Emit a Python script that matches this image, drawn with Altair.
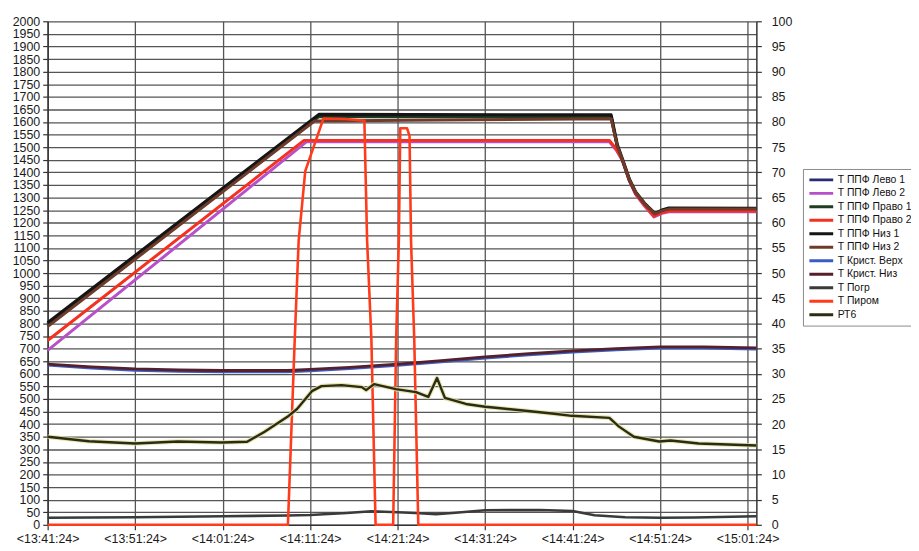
import altair as alt
import pandas as pd

SERIES = ["Т ППФ Лево 1", "Т ППФ Лево 2", "Т ППФ Право 1", "Т ППФ Право 2",
          "Т ППФ Низ 1", "Т ППФ Низ 2", "Т Крист. Верх", "Т Крист. Низ",
          "Т Погр", "Т Пиром", "РТ6"]
COLORS = ["#2b2b72", "#b94fc9", "#1f3d22", "#f5301e", "#151515", "#6e3b2a",
          "#3b5cc4", "#55202c", "#3a3a3a", "#ff3b1c", "#2c2c14"]

# time in minutes since 13:41:24
levo1_t = [0, 31.0, 64.4, 65.1, 65.7, 66.5, 67.2, 68.2, 69.4, 70.2, 71.0, 81.0]
levo1_v = [799, 1624, 1622, 1505, 1448, 1368, 1318, 1274, 1234, 1247, 1254, 1254]
levo2_t = [0, 29.6, 64.2, 65.0, 65.7, 66.5, 67.2, 68.2, 69.3, 70.2, 71.0, 81.0]
levo2_v = [693, 1522, 1521, 1488, 1446, 1365, 1313, 1267, 1223, 1237, 1243, 1243]
pravo1_t = [0, 31.0, 64.4, 65.1, 65.7, 66.5, 67.2, 68.2, 69.4, 70.2, 71.0, 81.0]
pravo1_v = [797, 1622, 1620, 1502, 1446, 1366, 1317, 1273, 1233, 1246, 1253, 1253]
pravo2_t = [0, 29.3, 64.2, 65.0, 65.7, 66.5, 67.2, 68.2, 69.3, 70.2, 71.0, 81.0]
pravo2_v = [732, 1527, 1527, 1492, 1450, 1368, 1316, 1270, 1226, 1240, 1246, 1246]
niz1_t = [0, 31.0, 64.4, 65.1, 65.7, 66.5, 67.2, 68.2, 69.4, 70.2, 71.0, 81.0]
niz1_v = [803, 1630, 1628, 1510, 1452, 1372, 1322, 1278, 1237, 1250, 1258, 1257]
niz2_t = [0, 30.5, 45, 64.4, 65.1, 65.7, 66.5, 67.2, 68.2, 69.4, 70.2, 71.0, 81.0]
niz2_v = [787, 1604, 1608, 1613, 1505, 1450, 1370, 1320, 1276, 1235, 1247, 1254, 1254]
krist_t = [0, 5, 10, 15, 20, 27.4, 30, 34.5, 40, 45, 50, 55, 60, 65, 70, 75, 81]
krist_verh_v = [634, 622, 614, 610, 608, 608, 612, 620, 633, 647, 662, 675, 686, 695, 702, 702, 698]
krist_niz_v = [638, 627, 619, 615, 613, 613, 617, 625, 638, 652, 667, 680, 691, 700, 707, 707, 703]
pogr_t = [0, 10, 20, 27.4, 30, 34.2, 37, 40, 42, 44.4, 46.6, 50, 56.3, 60, 62.5, 66, 70, 74, 81]
pogr_v = [28, 30, 34, 37, 39, 47, 54, 50, 47, 42, 48, 58, 59, 55, 38, 30, 28, 29, 34]
pirom_t = [0, 27.46, 28.24, 28.69, 29.44, 31.52, 34.0, 36.2, 36.51, 37.0, 37.48, 39.49,
           39.83, 40.14, 40.3, 41.08, 41.36, 41.53, 41.9, 42.36, 81]
pirom_v = [0, 0, 736, 1130, 1405, 1614, 1612, 1605, 1130, 736, 0, 0,
           736, 1130, 1575, 1575, 1545, 1130, 736, 0, 0]
rt6_t = [0, 4.7, 10, 14.9, 19.9, 22.8, 24.8, 27.4, 28.5, 30.2, 31.3, 33.6, 35.9, 36.4,
         37.3, 39.8, 42.1, 43.5, 44.5, 45.4, 47.8, 50.0, 51.2, 54.6, 57.9, 59.9, 64.2,
         65.3, 67.0, 69.9, 71.2, 74.4, 81]
rt6_v = [350, 332, 323, 331, 327, 330, 370, 429, 460, 531, 551, 555, 547, 535,
         559, 539, 527, 508, 583, 504, 480, 469, 465, 453, 441, 433, 425,
         390, 350, 331, 335, 323, 315]

RIGHT_TICKS = list(range(0, 101, 5))
LEFT_TICKS = list(range(0, 2001, 50))
X_TICKS = list(range(0, 81, 10))

series_data = [
    (SERIES[0], levo1_t, levo1_v, 3.0),
    (SERIES[1], levo2_t, levo2_v, 3.0),
    (SERIES[2], pravo1_t, pravo1_v, 3.0),
    (SERIES[3], pravo2_t, pravo2_v, 3.0),
    (SERIES[4], niz1_t, niz1_v, 3.2),
    (SERIES[5], niz2_t, niz2_v, 3.0),
    (SERIES[6], krist_t, krist_verh_v, 2.8),
    (SERIES[7], krist_t, krist_niz_v, 2.8),
    (SERIES[8], pogr_t, pogr_v, 2.6),
    (SERIES[9], pirom_t, pirom_v, 2.6),
    (SERIES[10], rt6_t, rt6_v, 2.4),
]

FONT = "Liberation Sans"
GRID = "#555555"

xscale = alt.Scale(domain=[0, 81], nice=False, zero=False)
yscale = alt.Scale(domain=[0, 2000], nice=False)
xaxis = alt.Axis(title=None, values=X_TICKS, grid=True, gridColor=GRID, gridWidth=1.3,
                 tickSize=5, tickColor="#333", tickWidth=1.2, domainColor="#333",
                 domainWidth=1.5, labelFont=FONT, labelFontSize=12.5, labelColor="#1a1a1a",
                 labelPadding=3, labelFlush=False, labelOverlap=False,
                 labelExpr="'<' + timeFormat(datetime(2024, 0, 1, 13, 41, 24 + round(datum.value * 60)), '%H:%M:%S') + '>'")
yaxis = alt.Axis(title=None, values=LEFT_TICKS, grid=True, gridColor=GRID, gridWidth=1.3,
                 tickSize=5, tickColor="#333", tickWidth=1.2, domainColor="#333",
                 domainWidth=1.5, labelFont=FONT, labelFontSize=12.5, labelColor="#1a1a1a",
                 labelPadding=3, labelOverlap=False, labelFlush=False, format="d")
legend = alt.Legend(title=None, orient="none", legendX=762, legendY=149,
                    symbolType="stroke", symbolSize=576, symbolStrokeWidth=3,
                    clipHeight=12, rowPadding=1.6, labelFont=FONT, labelFontSize=10.5,
                    labelColor="#111", padding=5, strokeColor="#8a8a8a",
                    fillColor="white", labelOffset=3, labelLimit=300)
color = alt.Color("s:N", scale=alt.Scale(domain=SERIES, range=COLORS), legend=legend)

layers = []
for name, t, v, w in series_data:
    df = pd.DataFrame({"t": t, "v": v, "s": name})
    if name == "РТ6":
        halo = alt.Chart(df).mark_line(color="#dede9c", strokeWidth=4.6, opacity=0.8,
                                       strokeJoin="round").encode(
            x=alt.X("t:Q", scale=xscale, axis=xaxis),
            y=alt.Y("v:Q", scale=yscale, axis=yaxis))
        layers.append(halo)
    layers.append(alt.Chart(df).mark_line(strokeWidth=w, strokeJoin="round").encode(
        x=alt.X("t:Q", scale=xscale, axis=xaxis),
        y=alt.Y("v:Q", scale=yscale, axis=yaxis),
        color=color))

left = alt.layer(*layers)

right = alt.Chart(pd.DataFrame({"r": [0, 100]})).mark_point(opacity=0).encode(
    y=alt.Y("r:Q", scale=alt.Scale(domain=[0, 100], nice=False),
            axis=alt.Axis(title=None, orient="right", values=RIGHT_TICKS, grid=False,
                          tickSize=5, tickColor="#333", tickWidth=1.2, domainColor="#333",
                          domainWidth=1.5, labelFont=FONT, labelFontSize=12.5,
                          labelColor="#1a1a1a", labelPadding=10, labelOverlap=False,
                          labelFlush=False, format="d")))

chart = alt.layer(left, right).resolve_scale(y="independent").properties(
    width=715, height=508,
    padding={"left": 40, "top": 11, "right": 156, "bottom": 24},
    autosize=alt.AutoSizeParams(type="none"),
    background="white",
).configure_view(strokeWidth=0)

chart.save("out.html", embed_options={"renderer": "svg", "actions": False})
